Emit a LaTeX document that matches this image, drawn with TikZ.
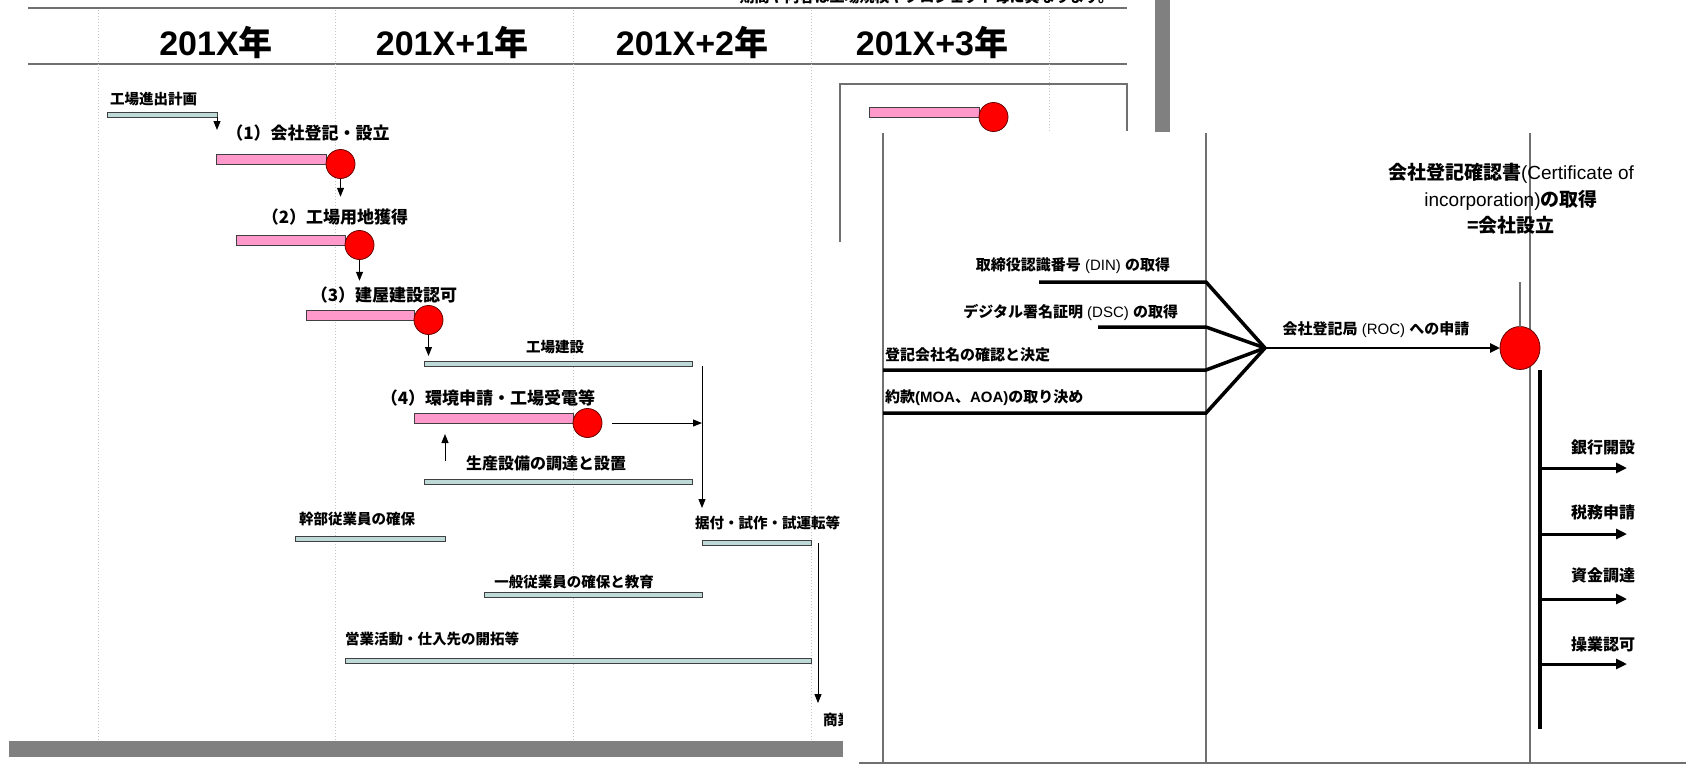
\documentclass[tikz,border=0pt]{standalone}
\usepackage{fontspec}
\setmainfont{Liberation Sans}
\newfontfamily\jp{Noto Sans CJK JP}
\usetikzlibrary{arrows.meta,positioning,shapes.geometric}
\definecolor{barteal}{HTML}{BDDAD8}
\definecolor{barpink}{HTML}{FF99CC}
\definecolor{msred}{HTML}{FF0000}
\definecolor{rulegray}{HTML}{707070}
\newcommand\jb[1]{{\jp\bfseries #1}}
\newcommand\fs[1]{\fontsize{#1}{#1}\selectfont}

\begin{document}
\begin{tikzpicture}[x = 1pt, y = -1pt,
    every node/.style = {inner sep = 0pt, outer sep = 0pt},
    tealbar/.style = {draw = black!75, fill = barteal, line width = 1pt, minimum height = 5pt, anchor = north west},
    pinkbar/.style = {draw = black!75, fill = barpink, line width = 1pt, minimum height = 10pt, anchor = north west},
    milestone/.style = {circle, draw = black!60!red, fill = msred, line width = 0.8pt, minimum size = 29pt, anchor = west},
    head/.style = {font = \jp\bfseries\fs{17}},
    task/.style = {font = \jp\bfseries\fs{14.5}},
    year/.style = {font = \bfseries\fs{34}},
    note/.style = {font = \fs{15}},
    sidenote/.style = {font = \jp\bfseries\fs{16}},
    arr/.style = {-{Triangle[length = 9pt, width = 7pt]}, line width = 1pt},
    gridline/.style = {draw = black!22, dotted, line width = 1pt},
    hrule/.style = {draw = rulegray, line width = 2.5pt},
    paneline/.style = {draw = rulegray, line width = 1.3pt},
    feed/.style = {line width = 3.5pt},
    fat/.style = {-{Triangle[length = 11pt, width = 10pt]}, line width = 3pt}]
    \useasboundingbox (0,0) rectangle (1686,764);
    \clip (0,0) rectangle (1686,764);

    \node[font = \jp\bfseries\fs{15}, anchor = base east] (caveat) at (1113,2) {期間や内容は工場規模やプロジェクト毎に異なります。};
    \draw[hrule] (28,8) -- (1127,8);
    \draw[hrule] (28,64) -- (1127,64);
    \draw[gridline] (98,10) -- (98,741);
    \draw[gridline] (335,10) -- (335,741);
    \draw[gridline] (573,10) -- (573,741);
    \draw[gridline] (811,10) -- (811,741);
    \draw[gridline] (1049,10) -- (1049,741);
    \node[year] (y0) at (216,43) {201X\jb{年}};
    \node[year] (y1) at (452,43) {201X+1\jb{年}};
    \node[year] (y2) at (692,43) {201X+2\jb{年}};
    \node[year] (y3) at (932,43) {201X+3\jb{年}};
    \fill[gray] (1155,0) rectangle (1170,132);
    \fill[gray] (9,741) rectangle (843,757);

    \node[tealbar, minimum width = 110pt] (plan) at (107,112) {};
    \node[task, anchor = west] (planlbl) at (110,99) {工場進出計画};
    \node[head] (t1) at (308,133) {（1）会社登記・設立};
    \node[pinkbar, minimum width = 110pt] (p1) at (216,154) {};
    \node[milestone] (m1) at (p1.south east) {};
    \node[head] (t2) at (335,217) {（2）工場用地獲得};
    \node[pinkbar, minimum width = 109pt] (p2) at (236,235) {};
    \node[milestone] (m2) at (p2.south east) {};
    \node[head] (t3) at (384,295) {（3）建屋建設認可};
    \node[pinkbar, minimum width = 108pt] (p3) at (306,310) {};
    \node[milestone] (m3) at (p3.south east) {};
    \node[task] (buildlbl) at (555,347) {工場建設};
    \node[tealbar, minimum width = 268pt] (build) at (424,361) {};
    \node[head] (t4) at (488,398) {（4）環境申請・工場受電等};
    \node[pinkbar, minimum width = 159pt] (p4) at (414,413) {};
    \node[milestone] (m4) at (p4.south east) {};
    \node[task, font = \jp\bfseries\fs{16}] (proclbl) at (546,463) {生産設備の調達と設置};
    \node[tealbar, minimum width = 268pt] (proc) at (424,479) {};
    \node[task] (mgrlbl) at (357,519) {幹部従業員の確保};
    \node[tealbar, minimum width = 150pt] (mgr) at (295,536) {};
    \node[task, anchor = west] (instlbl) at (695,523) {据付・試作・試運転等};
    \node[tealbar, minimum width = 109pt] (inst) at (702,540) {};
    \node[task] (stafflbl) at (574,582) {一般従業員の確保と教育};
    \node[tealbar, minimum width = 218pt] (staff) at (484,592) {};
    \node[task] (saleslbl) at (432,639) {営業活動・仕入先の開拓等};
    \node[tealbar, minimum width = 466pt] (sales) at (345,658) {};
    \node[task, anchor = west] (launch) at (823,720) {商業生産開始};

    \draw[arr, shorten >= 3pt] (plan.south east) -- (plan.south east |- t1);
    \draw[arr, shorten >= 12pt] (m1.south) -- (m1.south |- t2.north);
    \draw[arr, shorten >= 6pt] (m2.south) -- (m2.south |- t3.north);
    \draw[arr, shorten >= 5pt] (m3.south) -- (m3.south |- build.north);
    \draw[arr, shorten >= 8pt] (inst.west |- build.south) -- (inst.west |- instlbl.north);
    \draw[arr, shorten <= 10pt] (m4.east) -- (m4.east -| inst.west);
    \coordinate (upfoot) at (445,461);
    \draw[arr, shorten >= 11pt] (upfoot) -- (upfoot |- p4.south);
    \coordinate (endfoot) at (818,543);
    \draw[arr, shorten >= 10pt] (endfoot) -- (endfoot |- launch.north);

    \draw[paneline] (840,242) -- (840,84) -- (1127,84) -- (1127,131);
    \node[pinkbar, minimum width = 110pt] (p0) at (869,107) {};
    \node[milestone] (m0) at (p0.south east) {};

    \fill[white] (843,133) rectangle (1686,764);
    \coordinate (colA) at (883,133);
    \coordinate (colB) at (1206,133);
    \coordinate (colC) at (1530,133);
    \coordinate (floor) at (859,763);
    \coordinate (floorE) at (1686,763);
    \draw[paneline] (colA) -- (colA |- floor);
    \draw[paneline] (colB) -- (colB |- floor);
    \draw[paneline] (colC) -- (colC |- floor);
    \draw[paneline] (floor) -- (floorE);

    \node[note, anchor = east] (din) at (1170,266) {\jb{取締役認識番号} (DIN) \jb{の取得}};
    \node[note, anchor = east] (dsc) at (1178,312) {\jb{デジタル署名証明} (DSC) \jb{の取得}};
    \node[note, anchor = west] (coname) at (885,355) {\jb{登記会社名の確認と決定}};
    \node[note, anchor = west] (moa) at (885,398) {\jb{約款}\textbf{(MOA}\jb{、}\textbf{AOA)}\jb{の取り決め}};
    \coordinate (hub) at (1265,348);
    \coordinate (dinS) at (1039,282);
    \coordinate (dscS) at (1098,327);
    \coordinate (nameS) at (883,370);
    \coordinate (moaS) at (883,413);
    \draw[feed] (dinS) -- (dinS -| colB) -- (hub);
    \draw[feed] (dscS) -- (dscS -| colB) -- (hub);
    \draw[feed] (nameS) -- (nameS -| colB) -- (hub);
    \draw[feed] (moaS) -- (moaS -| colB) -- (hub);

    \node[note] (roc) at (1376,330) {\jb{会社登記局} (ROC) \jb{への申請}};
    \node[ellipse, draw = black!60!red, fill = msred, line width = 0.8pt, minimum width = 40pt, minimum height = 43pt] (coi) at (1520,348) {};
    \draw[line width = 2.5pt, -{Triangle[length = 10pt, width = 9pt]}] (hub) -- (coi.west);
    \draw[paneline] (coi.north) -- (coi.north |- dinS);
    \node[align = center, font = \fontsize{19}{26.5}\selectfont] (cert) at (1511,199)
        {\jb{会社登記確認書}(Certificate of\\ incorporation)\jb{の取得}\\ \jb{=会社設立}};

    \coordinate (trunk) at (1540,370);
    \coordinate (trunkE) at (1540,729);
    \draw[line width = 4pt] (trunk) -- (trunkE);
    \node[sidenote] (bank) at (1603,447) {銀行開設};
    \node[sidenote] (tax) at (1603,512) {税務申請};
    \node[sidenote] (fund) at (1603,575) {資金調達};
    \node[sidenote] (permit) at (1603,644) {操業認可};
    \coordinate (r1) at (1540,468);
    \coordinate (r2) at (1540,534);
    \coordinate (r3) at (1540,599);
    \coordinate (r4) at (1540,664);
    \draw[fat, shorten >= 8pt] (r1) -- (r1 -| bank.east);
    \draw[fat, shorten >= 8pt] (r2) -- (r2 -| tax.east);
    \draw[fat, shorten >= 8pt] (r3) -- (r3 -| fund.east);
    \draw[fat, shorten >= 8pt] (r4) -- (r4 -| permit.east);
\end{tikzpicture}
\end{document}
